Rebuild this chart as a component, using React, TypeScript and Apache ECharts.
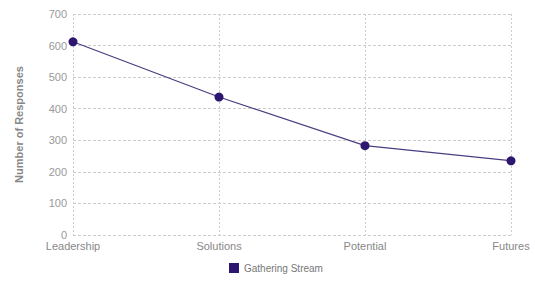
import React, { useEffect, useRef } from "react";
import * as echarts from "echarts";

const categories = ["Leadership", "Solutions", "Potential", "Futures"];
const gatheringStream = [612, 437, 283, 235];
const seriesName = "Gathering Stream";
const yAxisTitle = "Number of Responses";

export default function App() {
  const ref = useRef<HTMLDivElement>(null);
  useEffect(() => {
    if (!ref.current) return;
    const chart = echarts.init(ref.current, null, { renderer: "svg" });
    chart.setOption({
      animation: false,
      textStyle: { fontFamily: "Liberation Sans, Arial, sans-serif" },
      grid: { left: 73, right: 24, top: 14, bottom: 47 },
      legend: {
        bottom: 4,
        left: 224,
        itemWidth: 10,
        itemHeight: 10,
        icon: "rect",
        itemGap: 5,
        textStyle: { color: "#777", fontSize: 10 },
        data: [seriesName],
      },
      xAxis: {
        type: "category",
        data: categories,
        boundaryGap: false,
        axisLine: { show: false },
        axisTick: { show: false },
        axisLabel: { color: "#888", fontSize: 11, margin: 5 },
        splitLine: { show: true, lineStyle: { color: "#ccc", type: [2, 2], width: 1 } },
      },
      yAxis: {
        type: "value",
        min: 0,
        max: 700,
        interval: 100,
        name: yAxisTitle,
        nameLocation: "middle",
        nameGap: 49,
        nameTextStyle: { color: "#888", fontSize: 11, fontWeight: "bold" },
        axisLine: { show: false },
        axisTick: { show: false },
        axisLabel: { color: "#999", fontSize: 11, margin: 6 },
        splitLine: { show: true, lineStyle: { color: "#ccc", type: [3, 2], width: 1 } },
      },
      series: [
        {
          name: seriesName,
          type: "line",
          data: gatheringStream,
          symbol: "circle",
          symbolSize: 9,
          itemStyle: { color: "#2d1670" },
          lineStyle: { color: "#4a3d80", width: 1.2 },
        },
      ],
    });
    return () => chart.dispose();
  }, []);
  return (
    <div
      ref={ref}
      style={{ position: "fixed", left: 0, top: 0, width: 535, height: 282, background: "#fff" }}
    />
  );
}
